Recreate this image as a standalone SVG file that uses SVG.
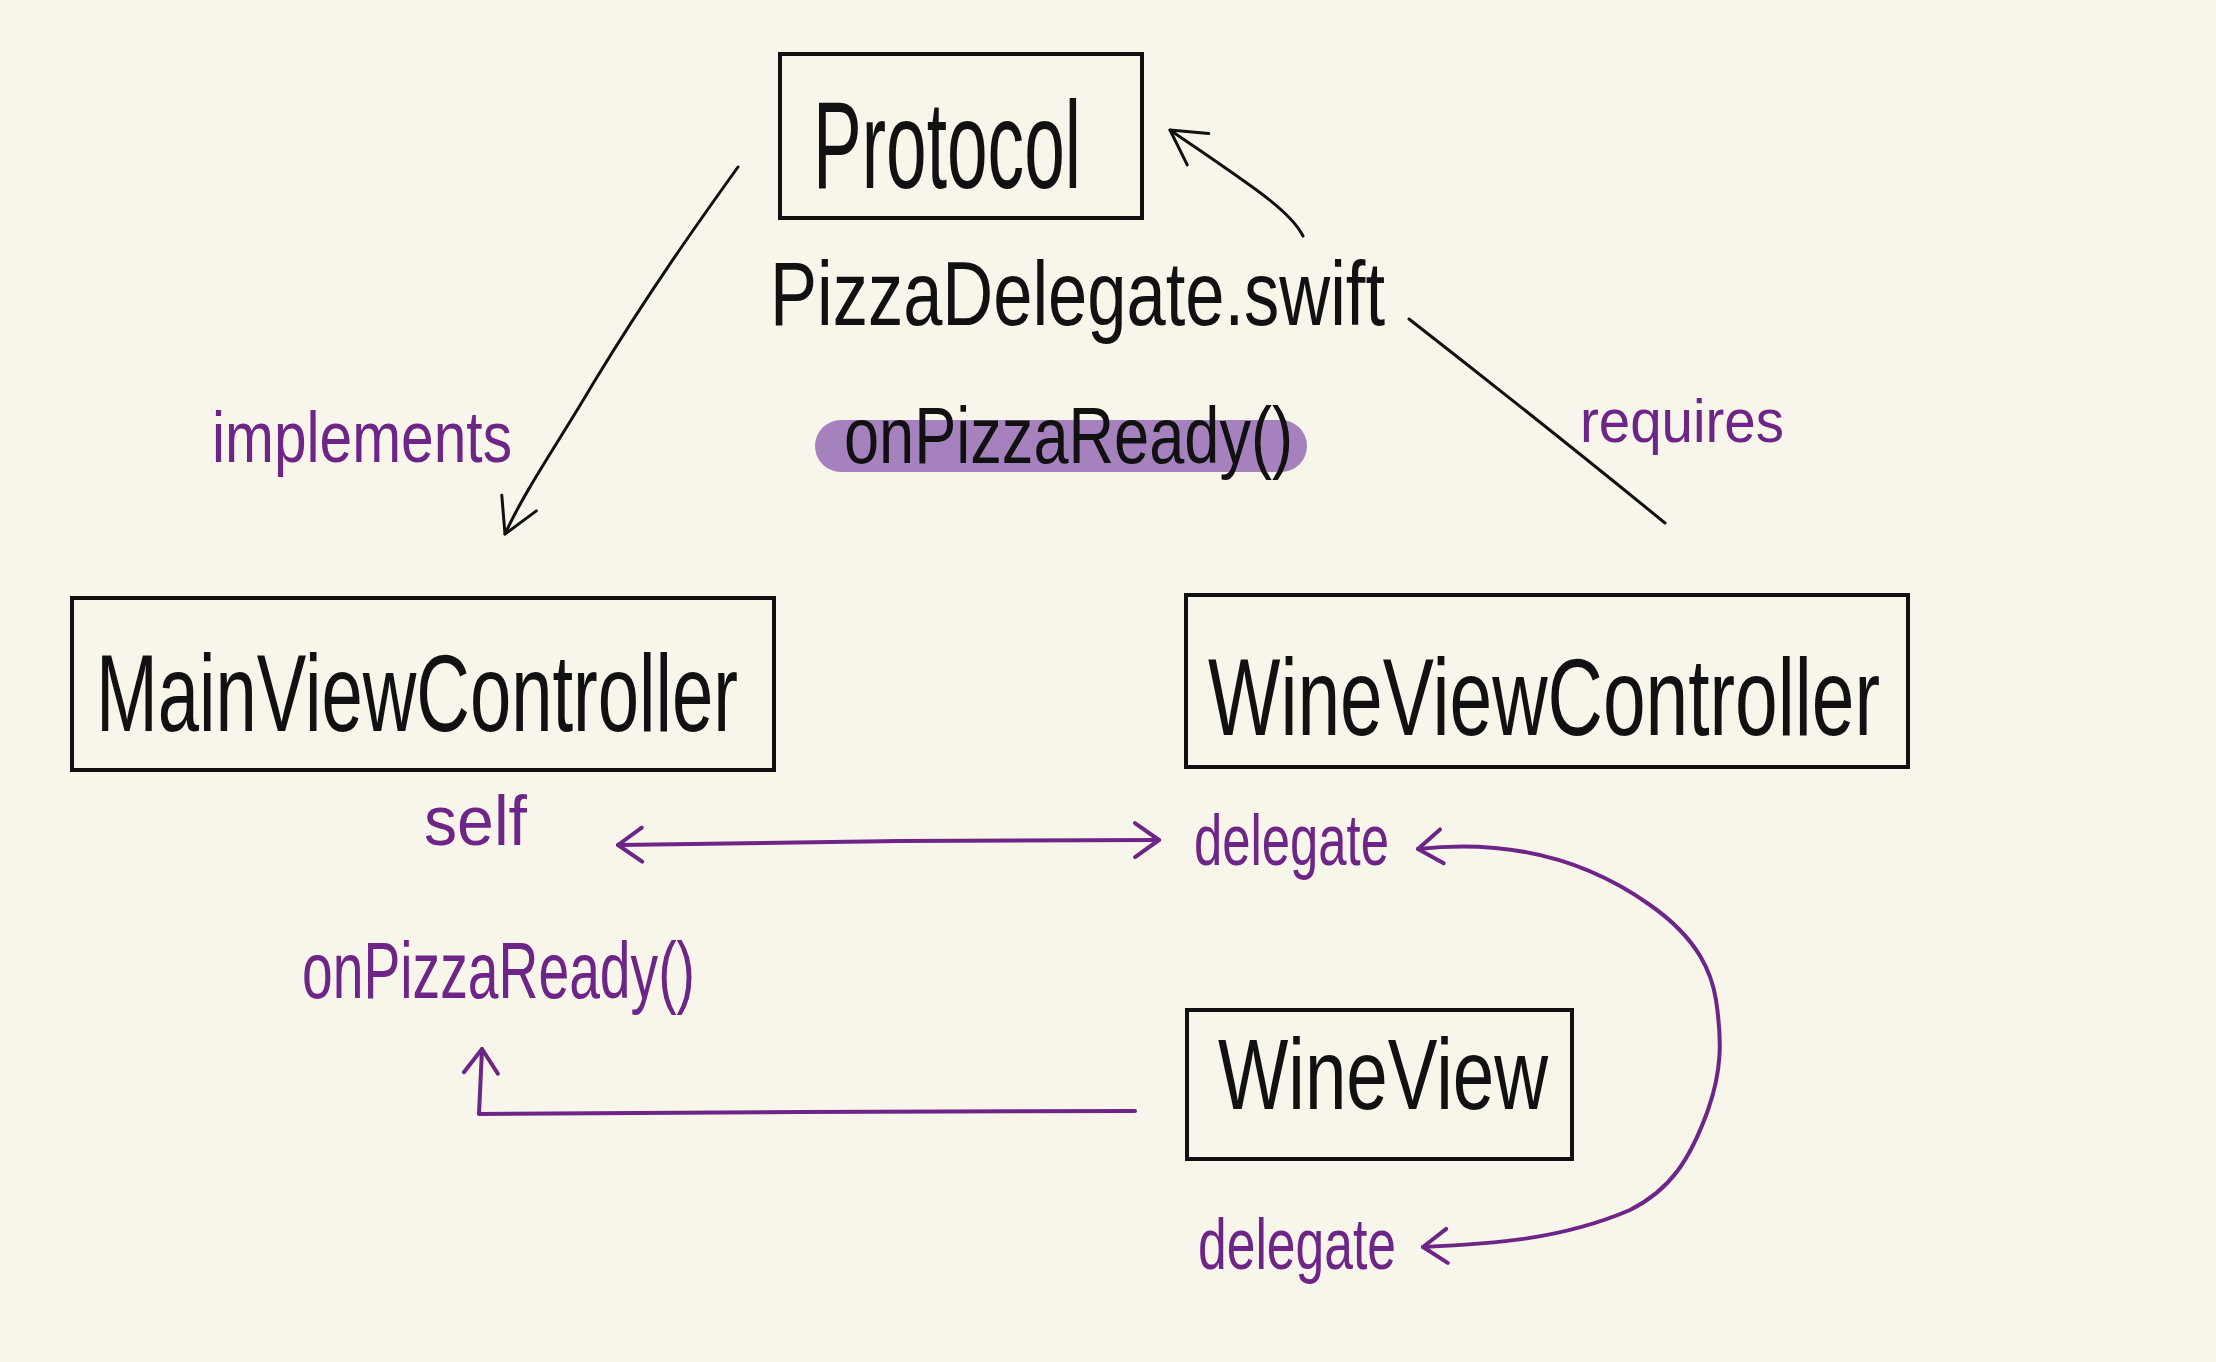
<svg xmlns="http://www.w3.org/2000/svg" width="2216" height="1362" viewBox="0 0 2216 1362">
<defs>
<style>
.box{fill:none;stroke:#111;stroke-width:4}
.bk{fill:none;stroke:#111;stroke-width:3;stroke-linecap:round;stroke-linejoin:round}
.pu{fill:none;stroke:#6e2588;stroke-width:4;stroke-linecap:round;stroke-linejoin:round}
.t{font-family:"Liberation Sans Narrow","Liberation Sans",Arial,sans-serif;font-weight:normal}
.tb{fill:#111}
.tp{fill:#6e2588}
</style>
<marker id="ab" viewBox="-40 -25 45 50" refX="0" refY="0" markerWidth="45" markerHeight="50" markerUnits="userSpaceOnUse" orient="auto-start-reverse">
<path d="M -34 -19 L 0 0 L -34 19" fill="none" stroke="#111" stroke-width="3" stroke-linecap="round" stroke-linejoin="round"/>
</marker>
<marker id="ap" viewBox="-30 -22 35 44" refX="0" refY="0" markerWidth="35" markerHeight="44" markerUnits="userSpaceOnUse" orient="auto-start-reverse">
<path d="M -24 -17 L 0 0 L -24 17" fill="none" stroke="#6e2588" stroke-width="4" stroke-linecap="round" stroke-linejoin="round"/>
</marker>
</defs>
<rect width="2216" height="1362" fill="#f8f6ea"/>

<g id="protocol">
<rect class="box" x="780" y="54" width="362" height="164"/>
<text class="t tb" x="813" y="188" font-size="125" textLength="268" lengthAdjust="spacingAndGlyphs">Protocol</text>
</g>

<g id="pizzadelegate">
<text class="t tb" x="770" y="325" font-size="90" textLength="615" lengthAdjust="spacingAndGlyphs">PizzaDelegate.swift</text>
</g>

<g id="onpizzaready-pill">
<rect x="815" y="420" width="492" height="52" rx="26" fill="#a582be"/>
<text class="t tb" x="844" y="463" font-size="80" textLength="449" lengthAdjust="spacingAndGlyphs">onPizzaReady()</text>
</g>

<g id="mainviewcontroller">
<rect class="box" x="72" y="598" width="702" height="172"/>
<text class="t tb" x="96" y="731" font-size="110" textLength="642" lengthAdjust="spacingAndGlyphs">MainViewController</text>
</g>

<g id="wineviewcontroller">
<rect class="box" x="1186" y="595" width="722" height="172"/>
<text class="t tb" x="1208" y="735" font-size="110" textLength="672" lengthAdjust="spacingAndGlyphs">WineViewController</text>
</g>

<g id="wineview">
<rect class="box" x="1187" y="1010" width="385" height="149"/>
<text class="t tb" x="1218" y="1109" font-size="100" textLength="330" lengthAdjust="spacingAndGlyphs">WineView</text>
</g>

<g id="labels">
<text class="t tp" x="212" y="462" font-size="72" textLength="300" lengthAdjust="spacingAndGlyphs">implements</text>
<text class="t tp" x="1580" y="442" font-size="62" textLength="204" lengthAdjust="spacingAndGlyphs">requires</text>
<text class="t tp" x="424" y="845" font-size="70" textLength="103" lengthAdjust="spacingAndGlyphs">self</text>
<text class="t tp" x="1194" y="865" font-size="72" textLength="195" lengthAdjust="spacingAndGlyphs">delegate</text>
<text class="t tp" x="302" y="998" font-size="80" textLength="393" lengthAdjust="spacingAndGlyphs">onPizzaReady()</text>
<text class="t tp" x="1198" y="1269" font-size="72" textLength="198" lengthAdjust="spacingAndGlyphs">delegate</text>
</g>

<g id="connectors">
<path class="bk" d="M 738 167 C 700 220 650 290 594 382 C 560 440 525 490 505 534" marker-end="url(#ab)"/>
<path class="bk" d="M 1665 523 C 1600 470 1500 390 1409 319"/>
<path class="bk" d="M 1303 236 C 1290 210 1250 185 1170 130" marker-end="url(#ab)"/>
<path class="pu" d="M 618 845 L 900 841 L 1159 840" marker-start="url(#ap)" marker-end="url(#ap)"/>
<path class="pu" d="M 1418 849 C 1500 840 1580 855 1650 905 C 1700 940 1712 975 1716 1000 C 1722 1040 1722 1070 1708 1110 C 1690 1160 1670 1190 1630 1210 C 1560 1240 1490 1244 1423 1247" marker-start="url(#ap)" marker-end="url(#ap)"/>
<path class="pu" d="M 1135 1111 L 800 1112 L 479 1114 L 482 1049" marker-end="url(#ap)"/>
</g>
</svg>
